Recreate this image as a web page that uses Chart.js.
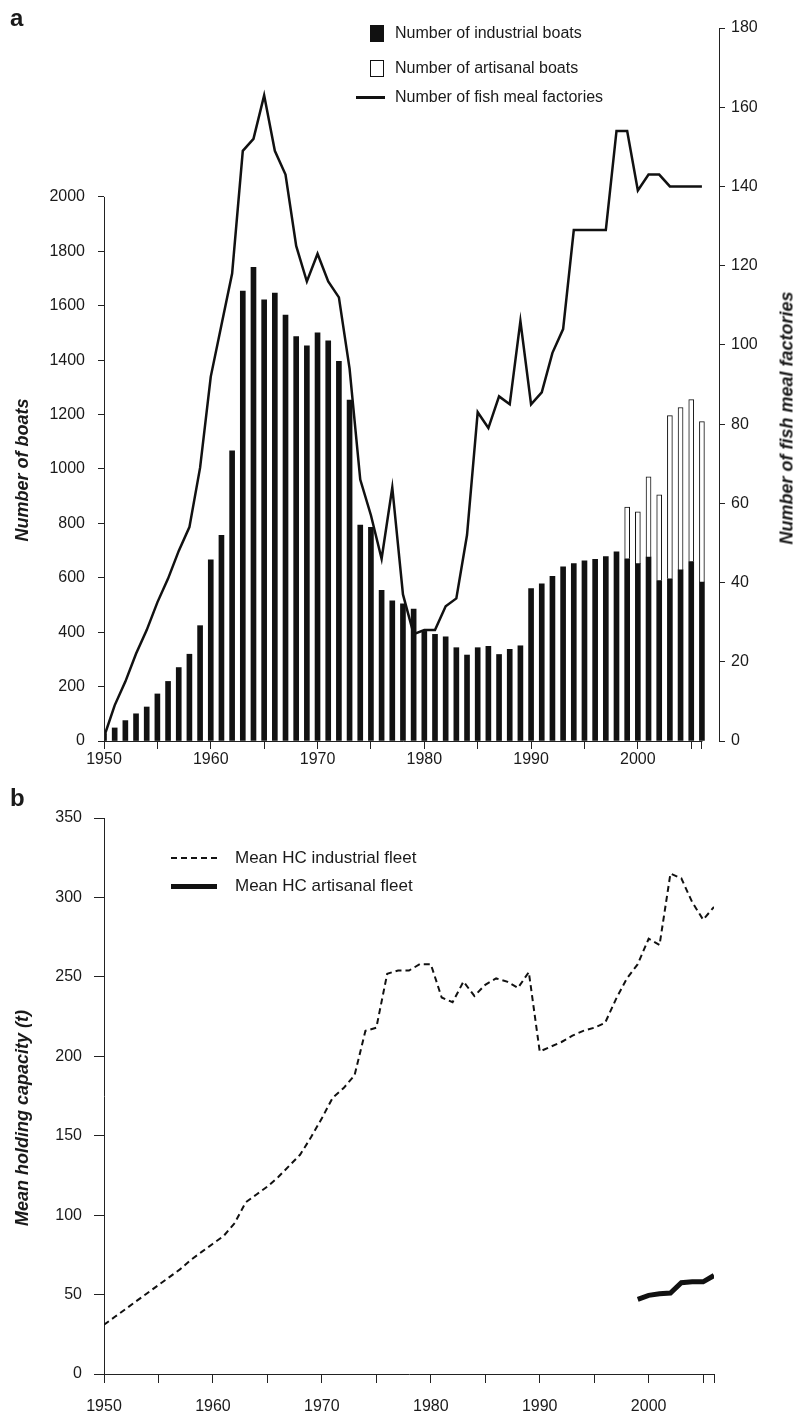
<!DOCTYPE html>
<html>
<head>
<meta charset="utf-8">
<script src="https://cdn.jsdelivr.net/npm/chart.js@4/dist/chart.umd.min.js"></script>
<style>
  body { margin: 0; background: #fff; width: 797px; height: 1416px; position: relative; overflow: hidden;
         font-family: "Liberation Sans", Arial, sans-serif; color: #1a1a1a; }
  canvas { position: absolute; left: 0; }
  #topChart { top: 0; }
  #botChart { top: 780px; }
  .panel { position: absolute; font-weight: bold; font-size: 24px; }
  .lbl { position: absolute; font-size: 16px; white-space: nowrap; line-height: 18px; }
  .ytitle { position: absolute; font-weight: bold; font-style: italic; font-size: 18px; white-space: nowrap;
            transform: translate(-50%, -50%) rotate(-90deg); }
  .swatch { position: absolute; box-sizing: border-box; }
</style>
</head>
<body>
<canvas id="topChart" width="797" height="780"></canvas>
<canvas id="botChart" width="797" height="636"></canvas>

<div class="panel" style="left:10px; top:4px;">a</div>
<div class="panel" style="left:10px; top:784px;">b</div>

<div class="ytitle" style="left:22px; top:470px;">Number of boats</div>
<div class="ytitle" style="left:787px; top:418px;">Number of fish meal factories</div>
<div class="ytitle" style="left:22px; top:1118px;">Mean holding capacity (t)</div>

<!-- legend, panel a -->
<div class="swatch" style="left:370px; top:25px; width:14px; height:17px; background:#111;"></div>
<div class="lbl" style="left:395px; top:24px;">Number of industrial boats</div>
<div class="swatch" style="left:370px; top:60px; width:14px; height:17px; border:1px solid #111;"></div>
<div class="lbl" style="left:395px; top:59px;">Number of artisanal boats</div>
<div class="swatch" style="left:356px; top:96px; width:29px; height:2.5px; background:#111;"></div>
<div class="lbl" style="left:395px; top:88px;">Number of fish meal factories</div>

<!-- legend, panel b -->
<div class="swatch" style="left:171px; top:857px; width:46px; height:0; border-top:2px dashed #111;"></div>
<div class="lbl" style="left:235px; top:849px; font-size:17px;">Mean HC industrial fleet</div>
<div class="swatch" style="left:171px; top:884px; width:46px; height:5px; background:#111;"></div>
<div class="lbl" style="left:235px; top:877px; font-size:17px;">Mean HC artisanal fleet</div>

<script>
const years = [1950, 1951, 1952, 1953, 1954, 1955, 1956, 1957, 1958, 1959,
               1960, 1961, 1962, 1963, 1964, 1965, 1966, 1967, 1968, 1969,
               1970, 1971, 1972, 1973, 1974, 1975, 1976, 1977, 1978, 1979,
               1980, 1981, 1982, 1983, 1984, 1985, 1986, 1987, 1988, 1989,
               1990, 1991, 1992, 1993, 1994, 1995, 1996, 1997, 1998, 1999,
               2000, 2001, 2002, 2003, 2004, 2005, 2006];

const industrialBoats = [27, 48, 75, 100, 125, 173, 219, 270, 319, 424,
                         666, 756, 1067, 1654, 1741, 1622, 1647, 1566, 1487, 1453,
                         1500, 1471, 1396, 1253, 794, 785, 554, 515, 504, 485,
                         403, 392, 383, 343, 316, 343, 348, 318, 337, 350,
                         560, 578, 605, 640, 652, 662, 668, 678, 695, 670,
                         652, 676, 590, 596, 629, 660, 584];

const artisanalYears = [1999, 2000, 2001, 2002, 2003, 2004, 2005, 2006];
const artisanalBoats = [190, 190, 295, 315, 600, 597, 595, 590];

const factories = [1, 9, 15, 22, 28, 35, 41, 48, 54, 69,
                   92, 105, 118, 149, 152, 163, 149, 143, 125, 116,
                   123, 116, 112, 94, 66, 57, 46, 64, 37, 27,
                   28, 28, 34, 36, 52, 83, 79, 87, 85, 106,
                   85, 88, 98, 104, 129, 129, 129, 129, 154, 154,
                   139, 143, 143, 140, 140, 140, 140];

const hcIndustrial = [31, 36, 41, 46, 51, 56, 61, 66, 72, 77,
                      82, 87, 95, 108, 113, 118, 124, 131, 138, 149,
                      161, 174, 180, 188, 216, 218, 252, 254, 254, 258,
                      258, 237, 234, 247, 238, 245, 249, 247, 243, 253,
                      203, 206, 209, 213, 216, 218, 221, 236, 249, 258,
                      274, 270, 315, 312, 297, 286, 294];

const hcArtisanalYears = [1999, 2000, 2001, 2002, 2003, 2004, 2005, 2006];
const hcArtisanal = [47, 49.5, 50.5, 51, 57.5, 58, 58, 62];

const yearTicks = [1950, 1955, 1960, 1965, 1970, 1975, 1980, 1985, 1990, 1995, 2000, 2005, 2006];
const boatTicks = [0, 200, 400, 600, 800, 1000, 1200, 1400, 1600, 1800, 2000];

const ink = '#1a1a1a';
const tickFont = { family: '"Liberation Sans", Arial, sans-serif', size: 16 };

function pairs(xs, ys) { return xs.map((x, i) => ({ x: x, y: ys[i] })); }
function yearLabel(v) { return v % 10 === 0 ? String(v) : ''; }
function setYearTicks(scale) { scale.ticks = yearTicks.map(v => ({ value: v })); }

// axis lines that stop at the last labelled value
const partialAxes = {
    id: 'partialAxes',
    afterDraw(chart, args, opts) {
        if (!opts.on) return;
        const ctx = chart.ctx, a = chart.chartArea;
        const x = chart.scales.x, yL = chart.scales.yL;
        ctx.save();
        ctx.strokeStyle = '#222';
        ctx.lineWidth = 1;
        ctx.beginPath();
        ctx.moveTo(a.left + 0.5, yL.getPixelForValue(0));
        ctx.lineTo(a.left + 0.5, yL.getPixelForValue(boatTicks[boatTicks.length - 1]));
        ctx.moveTo(a.left, a.bottom + 0.5);
        ctx.lineTo(x.getPixelForValue(yearTicks[yearTicks.length - 1]) + 0.5, a.bottom + 0.5);
        ctx.stroke();
        ctx.restore();
    }
};

// 1. Boats and factories
new Chart(document.getElementById('topChart'), {
    type: 'bar',
    data: {
        datasets: [{
            type: 'line',
            label: 'Number of fish meal factories',
            data: pairs(years, factories),
            yAxisID: 'yR',
            borderColor: '#111',
            borderWidth: 2.5,
            pointRadius: 0,
            tension: 0,
            order: 0
        }, {
            label: 'Number of industrial boats',
            data: pairs(years, industrialBoats),
            yAxisID: 'yL',
            backgroundColor: '#111',
            barThickness: 5,
            stack: 'boats',
            order: 1
        }, {
            label: 'Number of artisanal boats',
            data: pairs(artisanalYears, artisanalBoats),
            yAxisID: 'yL',
            backgroundColor: '#fff',
            borderColor: '#111',
            borderWidth: 1,
            borderSkipped: 'bottom',
            barThickness: 5,
            stack: 'boats',
            order: 1
        }]
    },
    options: {
        responsive: false,
        animation: false,
        layout: { padding: { top: 28, left: 0, right: 0, bottom: 0 } },
        plugins: { legend: { display: false }, tooltip: { enabled: false }, partialAxes: { on: true } },
        scales: {
            x: {
                type: 'linear', min: 1950, max: 2007.6, stacked: true, offset: false,
                afterBuildTicks: setYearTicks,
                afterFit: s => { s.height = 39; },
                border: { display: false },
                grid: { drawOnChartArea: false, offset: false, tickLength: 8, color: '#222' },
                ticks: { callback: yearLabel, autoSkip: false, maxRotation: 0, padding: 1, color: ink, font: tickFont }
            },
            yL: {
                position: 'left', min: 0, max: 2621, stacked: true,
                afterBuildTicks: s => { s.ticks = boatTicks.map(v => ({ value: v })); },
                afterFit: s => { s.width = 104; },
                border: { display: false },
                grid: { drawOnChartArea: false, tickLength: 6, color: '#222' },
                ticks: { callback: v => String(v), padding: 13, color: ink, font: tickFont }
            },
            yR: {
                position: 'right', min: 0, max: 180,
                afterFit: s => { s.width = 78; },
                border: { display: true, color: '#222' },
                grid: { drawOnChartArea: false, tickLength: 6, color: '#222' },
                ticks: { stepSize: 20, padding: 6, color: ink, font: tickFont }
            }
        }
    },
    plugins: [partialAxes]
});

// 2. Mean holding capacity
new Chart(document.getElementById('botChart'), {
    type: 'line',
    data: {
        datasets: [{
            label: 'Mean HC industrial fleet',
            data: pairs(years, hcIndustrial),
            borderColor: '#111',
            borderWidth: 2,
            borderDash: [6, 4],
            pointRadius: 0,
            tension: 0
        }, {
            label: 'Mean HC artisanal fleet',
            data: pairs(hcArtisanalYears, hcArtisanal),
            borderColor: '#111',
            borderWidth: 5,
            pointRadius: 0,
            tension: 0
        }]
    },
    options: {
        responsive: false,
        animation: false,
        layout: { padding: { top: 38, left: 0, right: 83, bottom: 0 } },
        plugins: { legend: { display: false }, tooltip: { enabled: false } },
        scales: {
            x: {
                type: 'linear', min: 1950, max: 2006,
                afterBuildTicks: setYearTicks,
                afterFit: s => { s.height = 42; },
                border: { display: true, color: '#222' },
                grid: { drawOnChartArea: false, tickLength: 9, color: '#222' },
                ticks: { callback: yearLabel, autoSkip: false, maxRotation: 0, padding: 14, color: ink, font: tickFont }
            },
            y: {
                min: 0, max: 350,
                afterFit: s => { s.width = 104; },
                border: { display: true, color: '#222' },
                grid: { drawOnChartArea: false, tickLength: 10, color: '#222' },
                ticks: { stepSize: 50, padding: 12, color: ink, font: tickFont }
            }
        }
    }
});
</script>
</body>
</html>
